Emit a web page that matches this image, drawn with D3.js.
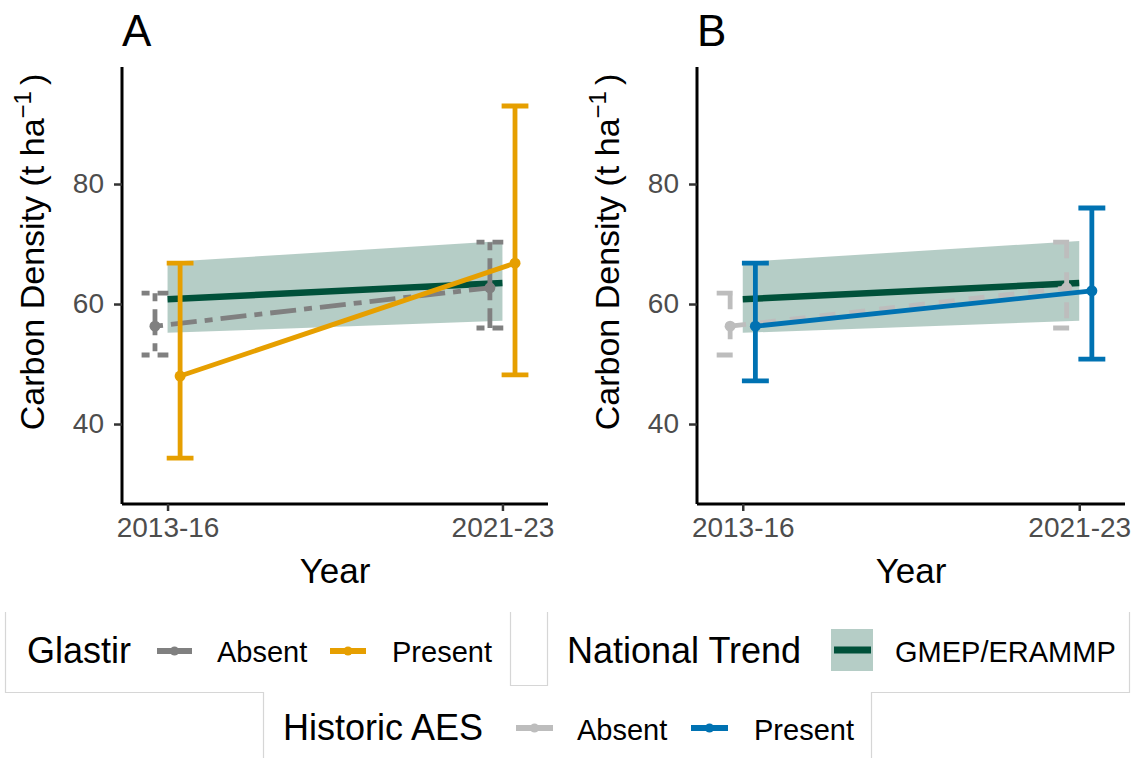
<!DOCTYPE html>
<html>
<head>
<meta charset="utf-8">
<script src="https://cdn.jsdelivr.net/npm/d3@7"></script>
<style>
  body { margin: 0; background: #fff; }
  svg { font-family: "Liberation Sans", Arial, sans-serif; }
</style>
</head>
<body>
<svg width="1141" height="758"></svg>
<script>
const years = ["2013-16", "2021-23"];
const yTicks = [40, 60, 80];

// national trend (GMEP/ERAMMP)
const nationalMean = [60.8, 63.5];
const nationalLow = [55.2, 57.2];
const nationalHigh = [67.0, 70.5];

// panel A: Glastir
const glastirAbsentMean = [56.3, 62.7];
const glastirAbsentLow = [51.5, 56.0];
const glastirAbsentHigh = [61.8, 70.3];
const glastirPresentMean = [48.0, 66.8];
const glastirPresentLow = [34.3, 48.2];
const glastirPresentHigh = [66.8, 93.0];

// panel B: Historic AES
const aesAbsentMean = [56.3, 62.7];
const aesAbsentLow = [51.5, 56.0];
const aesAbsentHigh = [61.8, 70.3];
const aesPresentMean = [56.3, 62.2];
const aesPresentLow = [47.2, 50.8];
const aesPresentHigh = [66.8, 76.0];

const green = "#00513a";
const svg = d3.select("svg");

const rows = (mean, low, high) =>
  years.map((y, i) => ({ year: y, mean: mean[i], low: low[i], high: high[i] }));

function drawPanel(opts) {
  const x = d3.scalePoint().domain(years).range([opts.left, opts.right]).padding(0.136);
  const y = d3.scaleLinear().domain([26.67, 99.5]).range([504, 67]);
  const step = x.step();
  const g = svg.append("g");

  const national = rows(nationalMean, nationalLow, nationalHigh);
  g.append("path")
    .datum(national)
    .attr("fill", green)
    .attr("fill-opacity", 0.29)
    .attr("d", d3.area().x((d) => x(d.year)).y0((d) => y(d.low)).y1((d) => y(d.high)));
  g.append("path")
    .datum(national)
    .attr("fill", "none")
    .attr("stroke", green)
    .attr("stroke-width", 6.5)
    .attr("d", d3.line().x((d) => x(d.year)).y((d) => y(d.mean)));

  opts.groups.forEach((grp) => {
    const data = rows(grp.mean, grp.low, grp.high);
    const cx = (d) => x(d.year) + grp.dodge * step;
    const cap = 0.04 * step;
    const gg = g.append("g");
    gg.selectAll("path.err")
      .data(data)
      .enter()
      .append("path")
      .attr("class", "err")
      .attr("fill", "none")
      .attr("stroke", grp.color)
      .attr("stroke-width", 4.8)
      .attr("stroke-dasharray", grp.dash)
      .attr("d", (d) => {
        const p = d3.path();
        p.moveTo(cx(d) - cap, y(d.high));
        p.lineTo(cx(d) + cap, y(d.high));
        p.moveTo(cx(d), y(d.high));
        p.lineTo(cx(d), y(d.low));
        p.moveTo(cx(d) - cap, y(d.low));
        p.lineTo(cx(d) + cap, y(d.low));
        return p.toString();
      });
    gg.append("path")
      .datum(data)
      .attr("fill", "none")
      .attr("stroke", grp.color)
      .attr("stroke-width", 4.8)
      .attr("stroke-dasharray", grp.dash)
      .attr("d", d3.line().x(cx).y((d) => y(d.mean)));
    gg.selectAll("circle")
      .data(data)
      .enter()
      .append("circle")
      .attr("cx", cx)
      .attr("cy", (d) => y(d.mean))
      .attr("r", 5.5)
      .attr("fill", grp.color);
  });

  // axes
  const yAxis = svg.append("g")
    .attr("transform", `translate(${opts.left},0)`)
    .call(d3.axisLeft(y).tickValues(yTicks).tickSize(8).tickPadding(10));
  const xAxis = svg.append("g")
    .attr("transform", "translate(0,504)")
    .call(d3.axisBottom(x).tickSize(7).tickPadding(6));
  [yAxis, xAxis].forEach((a) => {
    a.select(".domain").attr("stroke", "#000").attr("stroke-width", 3);
    a.selectAll(".tick line").attr("stroke", "#333").attr("stroke-width", 2.5);
    a.selectAll(".tick text")
      .attr("fill", "#4d4d4d")
      .style("font-size", "28px")
      .style("font-family", "Liberation Sans, Arial, sans-serif");
  });
  yAxis.select(".domain").attr("d", `M0,504V67`);
  xAxis.select(".domain").attr("d", `M${opts.left},0H${opts.right}`);

  svg.append("text")
    .attr("x", opts.left)
    .attr("y", 46)
    .style("font-size", "44px")
    .text(opts.label);

  svg.append("text")
    .attr("x", (opts.left + opts.right) / 2)
    .attr("y", 583)
    .attr("text-anchor", "middle")
    .style("font-size", "35px")
    .text("Year");

  const yt = svg.append("text")
    .attr("transform", `translate(${opts.left - 78},252) rotate(-90)`)
    .attr("text-anchor", "middle")
    .style("font-size", "34px");
  yt.append("tspan").text("Carbon Density (t ha");
  yt.append("tspan").attr("dy", -13).style("font-size", "24px").text("\u22121");
  yt.append("tspan").attr("dy", 13).attr("dx", 6).text(")");
}

drawPanel({
  left: 122, right: 548, label: "A",
  groups: [
    { mean: glastirAbsentMean, low: glastirAbsentLow, high: glastirAbsentHigh,
      color: "#808080", dash: "8,8,26,8", dodge: -0.0375 },
    { mean: glastirPresentMean, low: glastirPresentLow, high: glastirPresentHigh,
      color: "#E69F00", dash: null, dodge: 0.0375 }
  ]
});

drawPanel({
  left: 697, right: 1125, label: "B",
  groups: [
    { mean: aesAbsentMean, low: aesAbsentLow, high: aesAbsentHigh,
      color: "#bdbdbd", dash: "16,14", dodge: -0.0375 },
    { mean: aesPresentMean, low: aesPresentLow, high: aesPresentHigh,
      color: "#0072B2", dash: null, dodge: 0.0375 }
  ]
});

// legend boxes
const leg = svg.append("g");
leg.append("path")
  .attr("fill", "none")
  .attr("stroke", "#d6d6d6")
  .attr("stroke-width", 1.2)
  .attr("d", "M5.5,612V692.5H263.5V758 M510.5,612V685.5H547.5V612 M871.5,758V692.5H1129.5V612");

const keyLine = (x1, x2, yy, color) => {
  leg.append("line").attr("x1", x1).attr("x2", x2).attr("y1", yy).attr("y2", yy)
    .attr("stroke", color).attr("stroke-width", 6);
  leg.append("circle").attr("cx", (x1 + x2) / 2).attr("cy", yy).attr("r", 4.5).attr("fill", color);
};
const legText = (tx, ty, s, size) =>
  leg.append("text").attr("x", tx).attr("y", ty).style("font-size", size + "px").text(s);

legText(27, 663, "Glastir", 36);
keyLine(157, 192, 651, "#808080");
legText(217, 662, "Absent", 29);
keyLine(330, 366, 651, "#E69F00");
legText(392, 662, "Present", 29);

legText(567, 663, "National Trend", 36);
leg.append("rect").attr("x", 831).attr("y", 629).attr("width", 42).attr("height", 42)
  .attr("fill", green).attr("fill-opacity", 0.29);
leg.append("line").attr("x1", 834).attr("x2", 871).attr("y1", 650).attr("y2", 650)
  .attr("stroke", green).attr("stroke-width", 7);
legText(895, 662, "GMEP/ERAMMP", 29);

legText(283, 740, "Historic AES", 36);
keyLine(516, 553, 728, "#bdbdbd");
legText(577, 740, "Absent", 29);
keyLine(691, 728, 728, "#0072B2");
legText(754, 740, "Present", 29);
</script>
</body>
</html>
